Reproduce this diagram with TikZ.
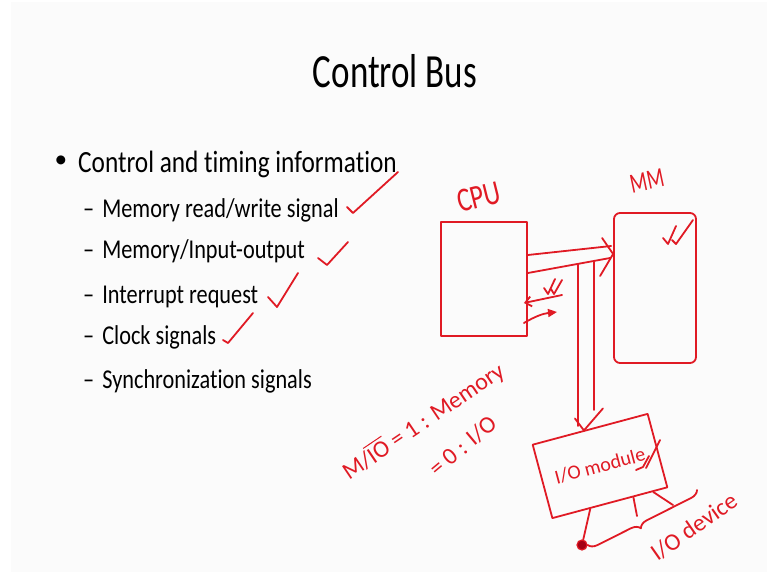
\documentclass[tikz,border=0pt]{standalone}
\usepackage{fontspec}
\setmainfont{Carlito}[Ligatures=NoCommon]
\usepackage{amsmath}
\usepackage{xcolor}
\usepackage{graphicx}
\usetikzlibrary{positioning, arrows.meta, calc, decorations.pathreplacing}

\definecolor{penred}{RGB}{224,26,36}
\definecolor{pendark}{RGB}{165,0,20}
\definecolor{slidebg}{RGB}{251,251,251}
\newcommand{\tall}[2][1.22]{\scalebox{1}[#1]{#2}}

\begin{document}
\begin{tikzpicture}[
    x=1pt, y=-1pt, line cap=round, line join=round,
    pen/.style={draw=penred, line width=1.8pt},
    box/.style={pen, rectangle, inner sep=0pt},
    hand/.style={text=penred, inner sep=0pt, font=\fontsize{#1}{#1}\selectfont},
    item/.style={anchor=base west, inner sep=0pt, font=\fontsize{22.3}{26}\selectfont}
]
    % slide
    \useasboundingbox (0,0) rectangle (767,572);
    \fill[slidebg] (11,2) rectangle (767,572);

    \node[anchor=base, inner sep=0pt, font=\fontsize{35}{40}\selectfont] (title) at (395,88) {\tall[1.36]{Control Bus}};
    \node[inner sep=0pt, font=\fontsize{25.3}{30}\selectfont] (bul) at (61,162) {•};
    \node[anchor=base west, inner sep=0pt, font=\fontsize{25.3}{30}\selectfont] (ctl) at (78,172) {\tall{Control and timing information}};
    \node[item] (mem) at (83,217) {\tall{–\hspace{8pt}Memory read/write signal}};
    \node[item] (mio) at (83,258) {\tall{–\hspace{8pt}Memory/Input-output}};
    \node[item] (irq) at (83,303) {\tall{–\hspace{8pt}Interrupt request}};
    \node[item] (clk) at (83,344) {\tall{–\hspace{8pt}Clock signals}};
    \node[item] (sync) at (83,388) {\tall{–\hspace{8pt}Synchronization signals}};

    % ticks on the list
    \draw[pen] (347,207) -- (353,213) -- (398,172);
    \draw[pen] (318,258) -- (327,265) -- (348,242);
    \draw[pen] (268,297) -- (277,307) -- (298,273);
    \draw[pen] (223,340) -- (228,343) -- (253,313);

    % blocks
    \node[box, minimum width=86pt, minimum height=114pt] (cpu) at (484,279) {};
    \node[hand=26, rotate=14] (cpulbl) at (479,197) {\tall[1.3]{CPU}};
    \node[box, rounded corners=6pt, minimum width=82pt, minimum height=150pt] (mm) at (655,288) {};
    \node[hand=20, rotate=12] (mmlbl) at (647,181) {\tall[1.4]{MM}};
    \node[box, hand=20, rotate=15, minimum width=119pt, minimum height=76pt] (iom) at (600,466) {I/O module};

    % bus CPU -> MM
    \draw[pen] ([yshift=24pt]cpu.east) -- ([xshift=-2pt, yshift=42pt]mm.west);
    \draw[pen] ([yshift=6pt]cpu.east) -- ([xshift=-3pt, yshift=30pt]mm.west);
    \coordinate (bustip) at ([yshift=34pt]mm.west);
    \draw[pen] ($(bustip)+(-11,-16)$) -- (bustip) -- ($(bustip)+(-13,22)$);

    % bus down to I/O module
    \coordinate (tapL) at (578,264);
    \coordinate (tapR) at (594,261);
    \coordinate (droptip) at ($(iom.north)+(-6,2)$);
    \draw[pen] (tapL) -- (tapL |- 0,426);
    \draw[pen] (tapR) -- (tapR |- 0,410);
    \draw[pen] ($(droptip)+(-9,-12)$) -- (droptip) -- ($(droptip)+(19,-22)$);

    % control lines at the CPU
    \coordinate (irqin) at (562,295);
    \coordinate (ackout) at (557,312);
    \draw[pen, -{Straight Barb[length=6pt, width=10pt]}] (irqin) -- ([xshift=-4pt, yshift=-24pt]cpu.east);
    \draw[pen, -{Triangle[length=9pt, width=8pt]}] ([xshift=-4pt, yshift=-44pt]cpu.east) to[bend left=12] (ackout);

    % marks
    \draw[pen] (544,288) -- (548,294) -- (555,279);
    \draw[pen] (551,289) -- (554,294) -- (562,280);
    \draw[pen] (663,238) -- (668,244) -- (676,226);
    \draw[pen] (672,240) -- (676,244) -- (693,220);
    \draw[pen] (636,470) -- (643,467) -- (649,456);
    \draw[pen] (646,468) -- (660,440);

    % I/O device
    \node[circle, fill=pendark, draw=penred, line width=1.2pt, minimum size=10pt, inner sep=0pt] (dev) at (582,545) {};
    \coordinate (leg2) at (637,516);
    \coordinate (leg3) at (673,505);
    \draw[pen] ($(iom.south west)!0.33!(iom.south east)$) -- (dev);
    \draw[pen] ($(iom.south west)!0.70!(iom.south east)$) -- (leg2);
    \draw[pen] ($(iom.south west)!0.87!(iom.south east)$) -- (leg3);
    \coordinate (braceend) at (697,490);
    \draw[pen, decorate, decoration={brace, mirror, amplitude=9pt, aspect=0.45}] (dev.east) -- (braceend);
    \node[hand=24, rotate=35] (devlbl) at (694,527) {I/O device};

    % select line note
    \node[hand=24, rotate=34] (sel1) at (423,421) {M/$\overline{\text{IO}}$ = 1 : Memory};
    \node[hand=24, rotate=40] (sel0) at (463,446) {= 0 : I/O};
\end{tikzpicture}
\end{document}
